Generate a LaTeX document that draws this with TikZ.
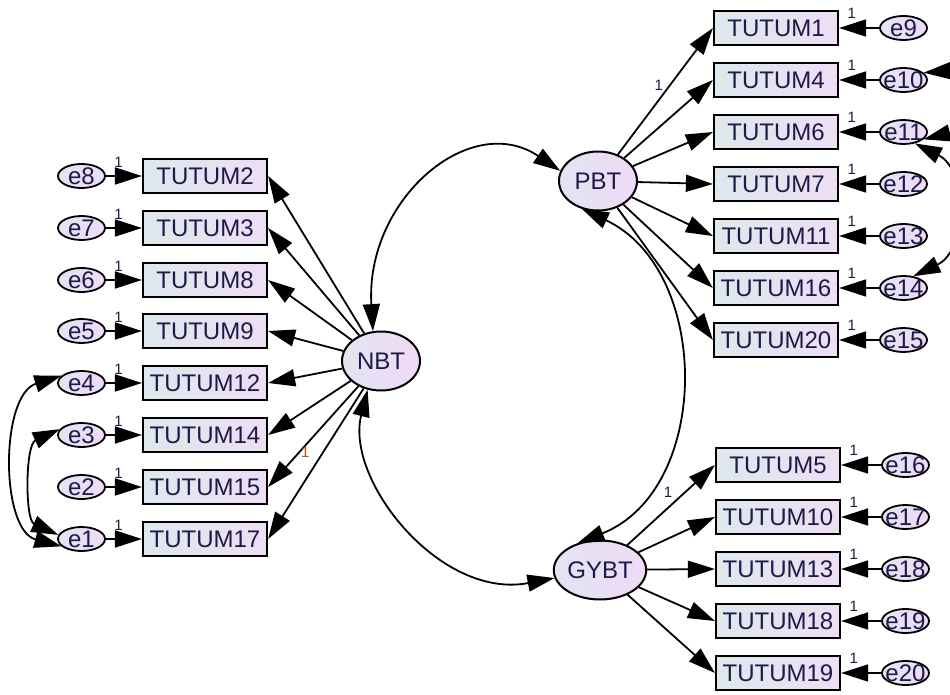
\documentclass[tikz,border=0pt]{standalone}
\usepackage{fontspec}
\setmainfont{Liberation Sans}
\usetikzlibrary{positioning}
\usetikzlibrary{arrows.meta}
\usetikzlibrary{shapes.geometric}
\tikzset{>={Triangle[length=27pt,width=17pt]}}
\definecolor{ink}{RGB}{28,26,72}
\definecolor{boxleft}{RGB}{222,232,236}
\definecolor{boxright}{RGB}{238,222,244}
\definecolor{ovalleft}{RGB}{226,228,242}
\definecolor{ovalright}{RGB}{240,218,246}
\colorlet{wtorange}{orange!70!black}
\tikzstyle{indbox}=[draw,line width=2.2pt,minimum width=124pt,minimum height=34pt,inner sep=0pt,
                    left color=boxleft,right color=boxright,text=ink,font=\fontsize{24}{24}\selectfont]
\tikzstyle{latent}=[draw,ellipse,line width=2pt,minimum width=78pt,minimum height=59pt,inner sep=0pt,
                    left color=ovalleft,right color=ovalright,text=ink,font=\fontsize{24}{24}\selectfont]
\tikzstyle{errnode}=[draw,ellipse,line width=1.8pt,minimum width=47pt,minimum height=24pt,inner sep=0pt,
                     left color=ovalleft,right color=ovalright,text=ink,font=\fontsize{24}{24}\selectfont]
\tikzstyle{myarrow}=[->,line width=1.8pt]
\tikzstyle{covarrow}=[<->,line width=1.8pt]
\tikzstyle{wt}=[font=\fontsize{15}{15}\selectfont,text=ink,inner sep=1pt]
% error labels may spill over their ovals
\newcommand{\elbl}[1]{\makebox[0pt]{#1}}

\begin{document}
\begin{tikzpicture}[x=1pt,y=-1pt]
  \useasboundingbox (0,0) rectangle (950,695);
  \def\gl{36pt} % error ovals to boxes, left side
  \def\gr{40pt} % boxes to error ovals, right side

  % latent factors
  \node[latent] (NBT)  at (381,361) {NBT};
  \node[latent] (PBT)  at (598,181) {PBT};
  \node[latent] (GYBT) at (600,570) {GYBT};

  % NBT indicators
  \foreach \n/\k/\y in {8/2/176,7/3/228,6/8/280,5/9/331,4/12/383,3/14/435,2/15/487,1/17/539}{
    \node[indbox] (t\k) at (205,\y) {TUTUM\k};
    \node[errnode, left=\gl of t\k] (e\n) {\elbl{e\n}};
    \draw[myarrow] (e\n) -- node[wt, pos=0.35, above=7pt] {1} (t\k);
    \draw[myarrow] (NBT) -- (t\k.east);
  }

  % PBT indicators
  \foreach \n/\k/\y in {9/1/28,10/4/80,11/6/132,12/7/184,13/11/236,14/16/288,15/20/340}{
    \node[indbox] (t\k) at (776,\y) {TUTUM\k};
    \node[errnode, right=\gr of t\k] (e\n) {\elbl{e\n}};
    \draw[myarrow] (e\n) -- node[wt, pos=0.68, above=8pt] {1} (t\k);
    \draw[myarrow] (PBT) -- (t\k.west);
  }

  % GYBT indicators
  \foreach \n/\k/\y in {16/5/465,17/10/517,18/13/569,19/18/621,20/19/673}{
    \node[indbox] (t\k) at (778,\y) {TUTUM\k};
    \node[errnode, right=\gr of t\k] (e\n) {\elbl{e\n}};
    \draw[myarrow] (e\n) -- node[wt, pos=0.68, above=8pt] {1} (t\k);
    \draw[myarrow] (GYBT) -- (t\k.west);
  }

  % fixed loadings
  \path (NBT) -- (t15.east) node[wt, text=wtorange, pos=0.66, right=1pt] {1};
  \path (PBT) -- (t1.west) node[wt, pos=0.55, left=6pt] {1};
  \path (GYBT) -- (t5.west) node[wt, pos=0.55, above left=3pt] {1};

  % factor covariances
  \draw[covarrow] (NBT.105) .. controls (365,200) and (470,110) .. (PBT.165);
  \draw[covarrow] (NBT.245) .. controls (345,480) and (440,600) .. (GYBT.190);
  \draw[covarrow] (PBT.240) .. controls (712,270) and (712,490) .. (GYBT.130);

  % error covariances
  \draw[covarrow] (e4.160) .. controls (0,395) and (0,530) .. (e1.200);
  \draw[covarrow] (e3.165) .. controls (25,445) and (25,520) .. (e1.170);
  \draw[covarrow] (e10.20) .. controls (962,70) and (962,130) .. (e11.-20);
  \draw[covarrow] (e11.-45) .. controls (968,170) and (968,250) .. (e14.50);
\end{tikzpicture}
\end{document}
